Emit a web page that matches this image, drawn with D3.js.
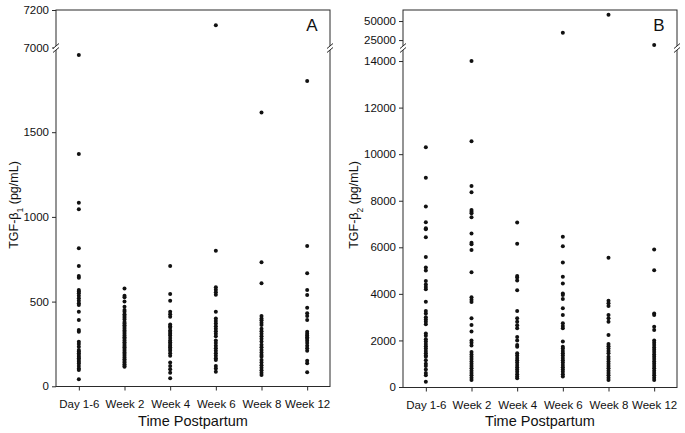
<!DOCTYPE html>
<html><head><meta charset="utf-8">
<script src="https://cdn.jsdelivr.net/npm/d3@7"></script>
<style>body{margin:0;background:#fff}svg{display:block}text{font-family:"Liberation Sans",Arial,sans-serif;fill:#111}</style>
</head><body><svg id="c" width="685" height="433"></svg>
<script>
const categories = ["Day 1-6","Week 2","Week 4","Week 6","Week 8","Week 12"];
// Panel A: TGF-beta1 (pg/mL)
const aDay16 = [1956,1371,1084,1045,815,710,651,641,568,560,550,534,520,505,490,480,440,391,333,322,263,250,234,215,205,195,185,175,165,155,145,135,120,105,96,41];
const aWeek2 = [578,535,525,500,470,450,440,425,415,405,395,380,370,360,350,340,330,320,310,300,290,280,270,260,250,240,230,220,210,200,190,180,170,160,150,140,130,120,115];
const aWeek4 = [710,545,505,440,425,410,365,355,345,330,320,310,300,285,270,260,250,240,230,220,210,195,180,140,120,100,80,48];
const aWeek6 = [7119,800,584,570,555,540,440,400,385,370,355,340,325,310,295,270,255,240,225,210,195,180,165,155,120,105,86];
const aWeek8 = [1617,732,608,415,400,390,375,362,340,325,310,295,280,265,245,230,215,200,185,175,155,140,125,110,95,80,67];
const aWeek12 = [1802,828,667,568,539,464,431,415,391,322,310,300,290,280,269,255,240,225,210,151,136,83];
// Panel B: TGF-beta2 (pg/mL)
const bDay16 = [10300,8990,7750,7080,6820,6770,6430,5580,5130,5000,4550,4400,4300,4200,3660,3260,3160,3000,2900,2800,2700,2300,2200,2050,1950,1850,1750,1650,1550,1450,1350,1300,1150,1000,900,750,600,500,230];
const bWeek2 = [14000,10550,8630,8360,7600,7530,7460,7290,6590,6200,6130,5880,4930,3850,3750,3650,2950,2660,2380,2000,1900,1780,1500,1400,1300,1200,1100,1000,900,800,700,600,500,400,300];
const bWeek4 = [7070,6150,4770,4700,4570,4160,3260,2950,2800,2650,2520,2150,2000,1800,1730,1450,1350,1250,1150,1050,950,850,750,650,550,450,380];
const bWeek6 = [34600,6450,6050,5350,4740,4450,4020,3950,3780,3380,3090,2740,2620,2520,1950,1730,1650,1550,1450,1350,1250,1150,1050,950,850,750,650,550,450];
const bWeek8 = [58300,5550,3700,3600,3480,3090,2950,2800,2230,1850,1750,1650,1550,1450,1300,1200,1100,1000,900,800,700,600,500,400,300];
const bWeek12 = [18450,5910,5010,3160,3090,2590,2450,2000,1900,1800,1700,1600,1500,1400,1300,1200,1100,1000,900,800,700,600,500,400,300];
const aTicks = [0,500,1000,1500,7000,7200];
const bTicks = [0,2000,4000,6000,8000,10000,12000,14000,25000,50000];

const svg = d3.select("#c");

function panel(o){
  const g = svg.append("g");
  const x = d3.scalePoint(categories,[o.x0,o.x1]).padding(0.5);
  const y = d3.scaleLinear().domain(o.ydom).range(o.yrng);
  const series = o.series;
  g.append("rect").attr("x",o.x0).attr("y",o.yTop).attr("width",o.x1-o.x0).attr("height",o.yBot-o.yTop)
    .attr("fill","none").attr("stroke","#2a2a2a").attr("stroke-width",1);
  const ya = g.append("g").attr("transform",`translate(${o.x0},0)`)
    .call(d3.axisLeft(y).tickValues(o.ticks).tickSize(4).tickPadding(3).tickFormat(d3.format("d")));
  ya.select(".domain").remove();
  ya.selectAll("line").attr("stroke","#2a2a2a");
  ya.selectAll("text").style("font-size","11.5px").style("font-family","Liberation Sans, Arial, sans-serif").attr("fill","#111");
  const xa = g.append("g").attr("transform",`translate(0,${o.yBot})`)
    .call(d3.axisBottom(x).tickSize(4).tickPadding(9));
  xa.select(".domain").remove();
  xa.selectAll("line").attr("stroke","#2a2a2a");
  xa.selectAll("text").style("font-size","11.5px").style("font-family","Liberation Sans, Arial, sans-serif").attr("fill","#111");
  const by = o.breakY;
  [o.x0,o.x1].forEach(bx=>{
    g.append("rect").attr("x",bx-2).attr("y",by-2).attr("width",4).attr("height",4).attr("fill","#fff");
    [-2,2].forEach(off=>{
      g.append("line").attr("x1",bx-3).attr("y1",by+off+2.5).attr("x2",bx+3).attr("y2",by+off-2.5)
        .attr("stroke","#2a2a2a").attr("stroke-width",1);
    });
  });
  categories.forEach((c,i)=>{
    g.selectAll(null).data(series[i]).enter().append("circle")
      .attr("cx",x(c)).attr("cy",d=>y(d)).attr("r",2).attr("fill","#111");
  });
  g.append("text").attr("x",o.x1-18).attr("y",31).attr("text-anchor","middle").style("font-size","17px").text(o.letter);
  g.append("text").attr("x",(o.x0+o.x1)/2).attr("y",426).attr("text-anchor","middle").style("font-size","14.5px").text("Time Postpartum");
  const yl = g.append("text").attr("transform",`translate(${o.ylx},${o.yly}) rotate(-90)`).attr("text-anchor","middle").style("font-size","12.5px");
  yl.append("tspan").text("TGF-β");
  yl.append("tspan").attr("baseline-shift","sub").style("font-size","8.5px").text(o.sub);
  yl.append("tspan").text(" (pg/mL)");
}

panel({x0:56,x1:330,yTop:10,yBot:386.5,ydom:[0,2000,7000,7200],yrng:[386.3,47.5,47.5,10],ticks:aTicks,breakY:48,
  series:[aDay16,aWeek2,aWeek4,aWeek6,aWeek8,aWeek12],letter:"A",sub:"1",ylx:18,yly:205});
panel({x0:403,x1:677,yTop:10,yBot:387.5,ydom:[0,14560,14600,64500],yrng:[387,48,48,10],ticks:bTicks,breakY:48,
  series:[bDay16,bWeek2,bWeek4,bWeek6,bWeek8,bWeek12],letter:"B",sub:"2",ylx:358,yly:205});
</script></body></html>
